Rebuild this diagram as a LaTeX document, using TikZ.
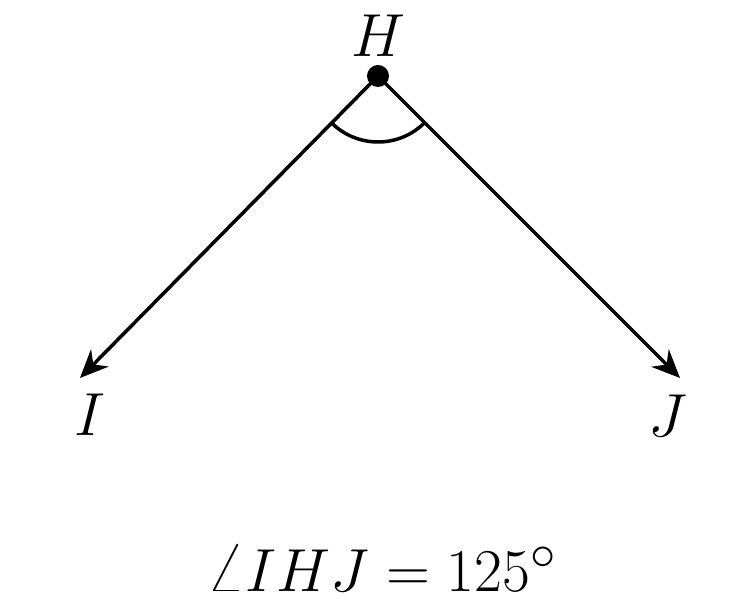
\documentclass[tikz,border=0pt]{standalone}
\usepackage{amsmath}
\usepackage{tikz}
\usetikzlibrary{arrows.meta,calc}

\begin{document}
\begin{tikzpicture}[inner sep =0mm,>={Stealth[length=8pt,width=7pt]},line width=1pt,x=0.01cm,y=-0.01cm]
  \useasboundingbox (0,0) rectangle (732,613);
  \begin{scope}[font=\fontsize{16}{19}\selectfont]
    \coordinate (h) at (378,76);
    \coordinate (i) at (80,378);
    \coordinate (j) at (680,378);
    \node  (lab_h) at (378,36)  { $H$};
    \node  (lab_i) at (90,415)  { $I$};
    \node  (lab_j) at (668,416) { $J$};

    \draw[->] (h) -- (i);
    \draw[->] (h) -- (j);
    \draw ($(h)+(134.6:66)$) arc (134.6:44.6:66);
    \fill (h) circle (11);
  \end{scope}
  \node[font=\fontsize{19}{23}\selectfont] (res) at (382,568) { $\angle IHJ = 125^\circ$};
\end{tikzpicture}
\end{document}
